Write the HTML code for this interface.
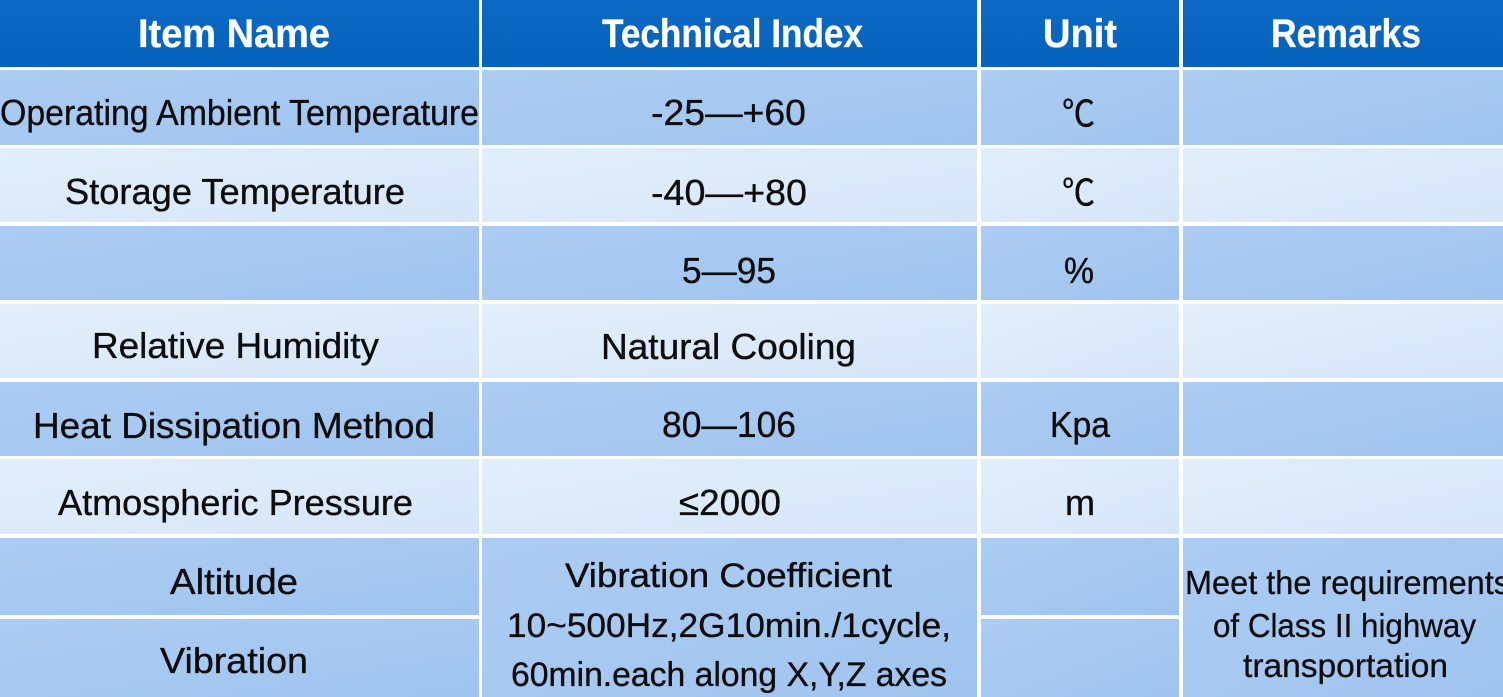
<!DOCTYPE html>
<html>
<head>
<meta charset="utf-8">
<style>
  html,body{margin:0;padding:0;background:#ffffff;}
  body{width:1503px;height:697px;overflow:hidden;}
  svg{display:block;}
  .h{font-family:"Liberation Sans","DejaVu Sans",sans-serif;font-weight:bold;font-size:40px;fill:#ffffff;stroke:#ffffff;stroke-width:0.3px;}
  .t{font-family:"Liberation Sans","DejaVu Sans",sans-serif;font-size:36px;fill:#0d0d0d;stroke:#0d0d0d;stroke-width:0.35px;}
  .c{font-family:"Noto Sans CJK SC","DejaVu Sans",sans-serif;font-size:36px;fill:#0d0d0d;stroke:#0d0d0d;stroke-width:0.35px;}
  .m{font-family:"Liberation Sans","DejaVu Sans",sans-serif;font-size:34px;fill:#0d0d0d;stroke:#0d0d0d;stroke-width:0.35px;}
  .r{font-family:"Liberation Sans","DejaVu Sans",sans-serif;font-size:33px;fill:#0d0d0d;stroke:#0d0d0d;stroke-width:0.3px;}
</style>
</head>
<body>
<svg width="1503" height="697" viewBox="0 0 1503 697" xmlns="http://www.w3.org/2000/svg">
  <defs>
    <linearGradient id="hd" x1="0" y1="0" x2="0" y2="1">
      <stop offset="0" stop-color="#0b69c4"/>
      <stop offset="1" stop-color="#0562bc"/>
    </linearGradient>
    <linearGradient id="dk" x1="0" y1="0" x2="1" y2="1">
      <stop offset="0" stop-color="#acccf3"/>
      <stop offset="1" stop-color="#a0c4ef"/>
    </linearGradient>
    <linearGradient id="lt" x1="0" y1="0" x2="1" y2="1">
      <stop offset="0" stop-color="#e2eefb"/>
      <stop offset="1" stop-color="#d6e6f8"/>
    </linearGradient>
  </defs>
  <rect x="0" y="0" width="1503" height="697" fill="#ffffff"/>

  <!-- header -->
  <rect x="0" y="0" width="479" height="67" fill="url(#hd)"/>
  <rect x="482" y="0" width="495" height="67" fill="url(#hd)"/>
  <rect x="981" y="0" width="198" height="67" fill="url(#hd)"/>
  <rect x="1183" y="0" width="320" height="67" fill="url(#hd)"/>

  <!-- row1 dark -->
  <rect x="0" y="70" width="479" height="75" fill="url(#dk)"/>
  <rect x="482" y="70" width="495" height="75" fill="url(#dk)"/>
  <rect x="981" y="70" width="198" height="75" fill="url(#dk)"/>
  <rect x="1183" y="70" width="320" height="75" fill="url(#dk)"/>
  <!-- row2 light -->
  <rect x="0" y="148" width="479" height="74" fill="url(#lt)"/>
  <rect x="482" y="148" width="495" height="74" fill="url(#lt)"/>
  <rect x="981" y="148" width="198" height="74" fill="url(#lt)"/>
  <rect x="1183" y="148" width="320" height="74" fill="url(#lt)"/>
  <!-- row3 dark -->
  <rect x="0" y="226" width="479" height="74" fill="url(#dk)"/>
  <rect x="482" y="226" width="495" height="74" fill="url(#dk)"/>
  <rect x="981" y="226" width="198" height="74" fill="url(#dk)"/>
  <rect x="1183" y="226" width="320" height="74" fill="url(#dk)"/>
  <!-- row4 light -->
  <rect x="0" y="304" width="479" height="74" fill="url(#lt)"/>
  <rect x="482" y="304" width="495" height="74" fill="url(#lt)"/>
  <rect x="981" y="304" width="198" height="74" fill="url(#lt)"/>
  <rect x="1183" y="304" width="320" height="74" fill="url(#lt)"/>
  <!-- row5 dark -->
  <rect x="0" y="382" width="479" height="74" fill="url(#dk)"/>
  <rect x="482" y="382" width="495" height="74" fill="url(#dk)"/>
  <rect x="981" y="382" width="198" height="74" fill="url(#dk)"/>
  <rect x="1183" y="382" width="320" height="74" fill="url(#dk)"/>
  <!-- row6 light -->
  <rect x="0" y="459" width="479" height="75" fill="url(#lt)"/>
  <rect x="482" y="459" width="495" height="75" fill="url(#lt)"/>
  <rect x="981" y="459" width="198" height="75" fill="url(#lt)"/>
  <rect x="1183" y="459" width="320" height="75" fill="url(#lt)"/>
  <!-- row7/8 dark -->
  <rect x="0" y="538" width="479" height="77" fill="url(#dk)"/>
  <rect x="0" y="619" width="479" height="78" fill="url(#dk)"/>
  <rect x="482" y="538" width="495" height="159" fill="url(#dk)"/>
  <rect x="981" y="538" width="198" height="77" fill="url(#dk)"/>
  <rect x="981" y="619" width="198" height="78" fill="url(#dk)"/>
  <rect x="1183" y="538" width="320" height="159" fill="url(#dk)"/>

  <!-- header text -->
  <text class="h" x="138" y="47" textLength="192" lengthAdjust="spacingAndGlyphs">Item Name</text>
  <text class="h" x="602" y="47" textLength="261" lengthAdjust="spacingAndGlyphs">Technical Index</text>
  <text class="h" x="1043" y="47" textLength="74" lengthAdjust="spacingAndGlyphs">Unit</text>
  <text class="h" x="1271" y="47" textLength="150" lengthAdjust="spacingAndGlyphs">Remarks</text>

  <!-- row1 -->
  <text class="t" x="0" y="125" textLength="479" lengthAdjust="spacingAndGlyphs">Operating Ambient Temperature</text>
  <text class="t" x="651" y="125" textLength="155" lengthAdjust="spacingAndGlyphs">-25—+60</text>
  <text class="c" x="1062" y="126" textLength="33" lengthAdjust="spacingAndGlyphs">℃</text>
  <!-- row2 -->
  <text class="t" x="65" y="204" textLength="340" lengthAdjust="spacingAndGlyphs">Storage Temperature</text>
  <text class="t" x="651" y="205" textLength="156" lengthAdjust="spacingAndGlyphs">-40—+80</text>
  <text class="c" x="1062" y="205" textLength="33" lengthAdjust="spacingAndGlyphs">℃</text>
  <!-- row3 -->
  <text class="t" x="682" y="283" textLength="94" lengthAdjust="spacingAndGlyphs">5—95</text>
  <text class="t" x="1064" y="283" textLength="30" lengthAdjust="spacingAndGlyphs">%</text>
  <!-- row4 -->
  <text class="t" x="92" y="358" textLength="287" lengthAdjust="spacingAndGlyphs">Relative Humidity</text>
  <text class="t" x="601" y="359" textLength="255" lengthAdjust="spacingAndGlyphs">Natural Cooling</text>
  <!-- row5 -->
  <text class="t" x="33" y="438" textLength="402" lengthAdjust="spacingAndGlyphs">Heat Dissipation Method</text>
  <text class="t" x="662" y="437" textLength="134" lengthAdjust="spacingAndGlyphs">80—106</text>
  <text class="t" x="1050" y="437" textLength="60" lengthAdjust="spacingAndGlyphs">Kpa</text>
  <!-- row6 -->
  <text class="t" x="58" y="515" textLength="355" lengthAdjust="spacingAndGlyphs">Atmospheric Pressure</text>
  <text class="t" x="679" y="515" textLength="102" lengthAdjust="spacingAndGlyphs">≤2000</text>
  <text class="t" x="1065" y="515" textLength="30" lengthAdjust="spacingAndGlyphs">m</text>
  <!-- row7/8 -->
  <text class="t" x="170" y="594" textLength="128" lengthAdjust="spacingAndGlyphs">Altitude</text>
  <text class="t" x="160" y="673" textLength="148" lengthAdjust="spacingAndGlyphs">Vibration</text>

  <text class="m" x="565" y="587" textLength="327" lengthAdjust="spacingAndGlyphs">Vibration Coefficient</text>
  <text class="m" x="507" y="637" textLength="444" lengthAdjust="spacingAndGlyphs">10~500Hz,2G10min./1cycle,</text>
  <text class="m" x="511" y="686" textLength="436" lengthAdjust="spacingAndGlyphs">60min.each along X,Y,Z axes</text>

  <text class="r" x="1185" y="594" textLength="325" lengthAdjust="spacingAndGlyphs">Meet the requirements</text>
  <text class="r" x="1213" y="637" textLength="263" lengthAdjust="spacingAndGlyphs">of Class II highway</text>
  <text class="r" x="1243" y="677" textLength="205" lengthAdjust="spacingAndGlyphs">transportation</text>
</svg>
</body>
</html>
